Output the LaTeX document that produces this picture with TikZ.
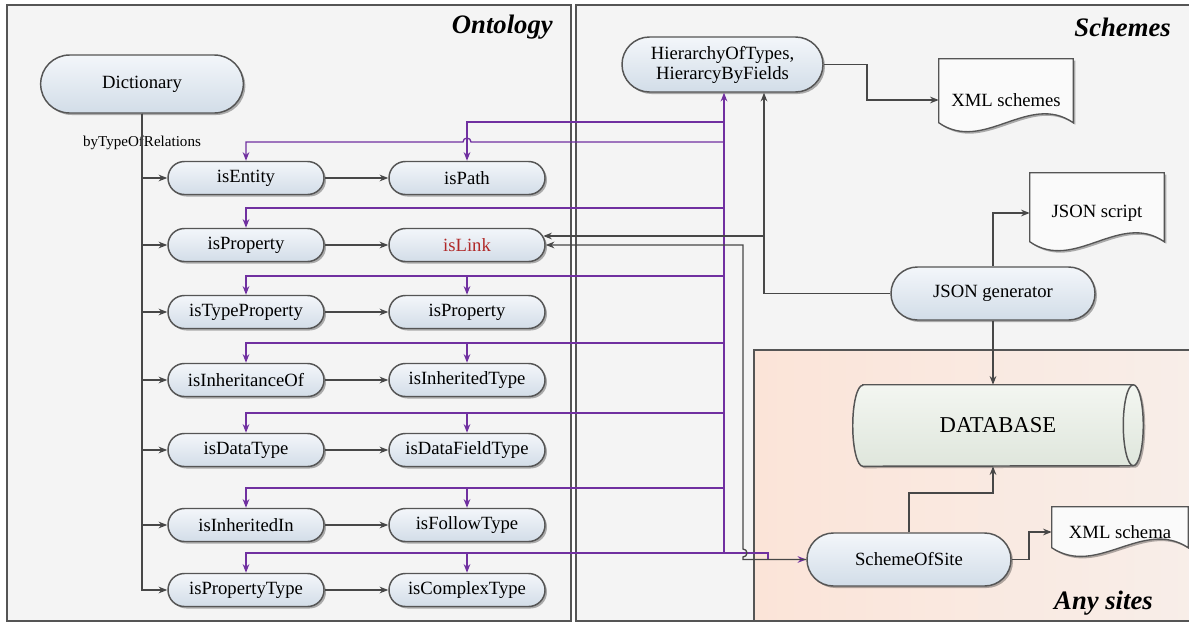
\documentclass[tikz,border=0pt]{standalone}
\usepackage{fontspec}
\setmainfont{Liberation Serif}
\usetikzlibrary{arrows.meta,shadows,calc}
\pgfdeclarelayer{back}
\pgfdeclarelayer{bg}
\pgfsetlayers{back,bg,main}
\definecolor{pur}{HTML}{7030A0}
\definecolor{lnc}{HTML}{474747}
\definecolor{bdc}{HTML}{555555}
\definecolor{ntop}{HTML}{F3F6FA}
\definecolor{nbot}{HTML}{D2DDE8}
\definecolor{redt}{HTML}{B02828}
\definecolor{pnl}{HTML}{F4F4F4}
\definecolor{peachA}{HTML}{FBE4D8}
\definecolor{peachB}{HTML}{F8EEE9}
\definecolor{dbtop}{HTML}{F3F6F1}
\definecolor{dbbot}{HTML}{DFE6DC}
\tikzset{
  shad/.style={drop shadow={shadow xshift=1.5pt,shadow yshift=-1.5pt,opacity=0.3,fill=black}},
  nd/.style={draw=bdc,line width=1.1pt,top color=ntop,bottom color=nbot,shad,
     font=\fontsize{14}{15}\selectfont,align=center,inner sep=0pt},
  rowbox/.style={nd,minimum width=117pt,minimum height=24.75pt,rounded corners=12.3pt},
  bigbox/.style={nd,minimum width=153pt,minimum height=39.75pt,rounded corners=19.8pt},
  docnode/.style={inner sep=0pt,font=\fontsize{14}{15}\selectfont},
  docst/.style={draw=bdc,line width=1pt,fill=white!96!gray,shad},
  gl/.style={draw=lnc,line width=1pt,-{Stealth[length=6.5pt,width=5pt]}},
  pl/.style={draw=pur,line width=1pt,-{Stealth[length=6.5pt,width=5pt]}},
  ttl/.style={font=\fontsize{20}{22}\selectfont\bfseries\itshape,inner sep=0pt,anchor=east},
  panel/.style={draw=bdc,line width=1.3pt}
}
\newcommand\docshape[3]{%
  \draw[docst] (#1.north west) -- (#1.north east) -- ($(#1.north east)+(0,#2)$)
   .. controls ($(#1.north east)!0.333!(#1.north west)+(0,#2-#3)$) and ($(#1.north east)!0.667!(#1.north west)+(0,#2+#3)$)
   .. ($(#1.north west)+(0,#2)$) -- cycle;}
\begin{document}
\begin{tikzpicture}[x=0.75pt,y=-0.75pt]
\useasboundingbox (0,0) rectangle (1189,625);
\begin{pgfonlayer}{back}
  \fill[white] (0,0) rectangle (1189,625);
  \draw[panel,fill=pnl] (7,5) rectangle (571,621);
  \draw[panel,fill=pnl] (576,5) rectangle (1200,621);
  \draw[panel,left color=peachA,right color=peachB] (754,350) rectangle (1200,621);
\end{pgfonlayer}

% titles
\node[ttl] (tont) at (553,27) {Ontology};
\node[ttl] (tsch) at (1171,27) {Schemes};
\node[ttl] (tany) at (1153,603) {Any sites};

% ontology nodes
\node[nd,minimum width=152pt,minimum height=43.5pt,rounded corners=21.7pt] (dict) at (142,84) {Dictionary};
\node[font=\fontsize{11.3}{13}\selectfont,inner sep=0pt] (rel) at (142,143) {byTypeOfRelations};

\node[rowbox] (l1) at (246,178) {isEntity};
\node[rowbox] (r1) at (467,178) {isPath};
\node[rowbox] (l2) at (246,245) {isProperty};
\node[rowbox] (r2) at (467,245) {\textcolor{redt}{isLink}};
\node[rowbox] (l3) at (246,312) {isTypeProperty};
\node[rowbox] (r3) at (467,312) {isProperty};
\node[rowbox] (l4) at (246,380) {isInheritanceOf};
\node[rowbox] (r4) at (467,380) {isInheritedType};
\node[rowbox] (l5) at (246,450) {isDataType};
\node[rowbox] (r5) at (467,450) {isDataFieldType};
\node[rowbox] (l6) at (246,525) {isInheritedIn};
\node[rowbox] (r6) at (467,525) {isFollowType};
\node[rowbox] (l7) at (246,590) {isPropertyType};
\node[rowbox] (r7) at (467,590) {isComplexType};

% schemes nodes
\node[nd,minimum width=150.75pt,minimum height=41.25pt,rounded corners=20.6pt] (hier) at (722.5,64.5) {HierarchyOfTypes,\\HierarcyByFields};
\node[bigbox] (json) at (993,293.5) {JSON generator};
\node[bigbox] (sos) at (909,559.5) {SchemeOfSite};
\node[font=\fontsize{17}{19}\selectfont,minimum width=217.5pt,minimum height=60.75pt,inner sep=0pt] (db) at (998,425.5) {DATABASE};
\node[docnode,minimum width=100.5pt,minimum height=61.5pt] (xmls) at (1006,100) {XML schemes};
\node[docnode,minimum width=100.5pt,minimum height=60pt] (jsons) at (1097,213) {JSON script};
\node[docnode,minimum width=102pt,minimum height=37.5pt] (xmla) at (1120,532) {XML schema};

\begin{pgfonlayer}{bg}
  \docshape{xmls}{64}{31}
  \docshape{jsons}{69}{31}
  \docshape{xmla}{41}{30}
  \draw[draw=bdc,line width=1.1pt,top color=dbtop,bottom color=dbbot,shad]
    ([xshift=7.5pt]db.north west) -- ([xshift=-7.5pt]db.north east)
    arc[start angle=90,end angle=-90,x radius=7.5pt,y radius=30.375pt]
    -- ([xshift=7.5pt]db.south west)
    arc[start angle=270,end angle=90,x radius=7.5pt,y radius=30.375pt] -- cycle;
  \draw[draw=bdc,line width=1.1pt] ([xshift=-7.5pt]db.north east)
    arc[start angle=90,end angle=270,x radius=7.5pt,y radius=30.375pt];
\end{pgfonlayer}

% coordinates
\coordinate (pb0) at (724,122);
\coordinate (pb1) at (724,142);
\coordinate (pb2) at (724,208);
\coordinate (pb3) at (724,276);
\coordinate (pb4) at (724,343);
\coordinate (pb5) at (724,413);
\coordinate (pb6) at (724,488);
\coordinate (pb7) at (724,553);
\coordinate (pj) at (768,553);
\coordinate (jx) at (764,236);
\coordinate (sx) at (743,245);
\coordinate (hx) at (867,0);
\coordinate (dbj) at (993,493);
\coordinate (ax) at (1029,0);

% gray ontology connectors
\foreach \k in {1,...,7}{
  \draw[gl] (dict.south) |- (l\k.west);
  \draw[gl] (l\k.east) -- (r\k.west);
}

% purple bus
\draw[pl] (pb7) -- (pb7 |- hier.south);
\draw[pl] (pb0) -| (r1.north);
\draw[pl] (pb1) -- ($(r1.north |- pb1)+(4,0)$) arc[start angle=0,end angle=180,radius=3pt] -| (l1.north);
\draw[pl] (pb2) -| (l2.north);
\foreach \k in {3,...,7}{
  \draw[pl] (pb\k) -| (l\k.north);
  \draw[pl] (r\k.north |- pb\k) -- (r\k.north);
}
\draw[pl] (pb7) -- (pj) |- (sos.west);

% gray scheme connectors
\draw[gl] (hier.east) -| (hx |- xmls.west) -- (xmls.west);
\draw[gl] (json.west) -| (jx |- hier.south);
\draw[gl] (jx) -- ($(r2.east)+(-2.5,-9)$);
\draw[gl] (sos.west) -| ($(sx |- pb7)+(0,4)$) arc[start angle=-90,end angle=90,radius=3pt] -- (sx) -- (r2.east);
\draw[gl] (json.north) |- (jsons.west);
\draw[gl] (json.south) -- (json.south |- db.north);
\draw[gl] (sos.north) |- (dbj) -- (dbj |- db.south);
\draw[gl] (sos.east) -| (ax |- xmla.west) -- (xmla.west);
\end{tikzpicture}
\end{document}
